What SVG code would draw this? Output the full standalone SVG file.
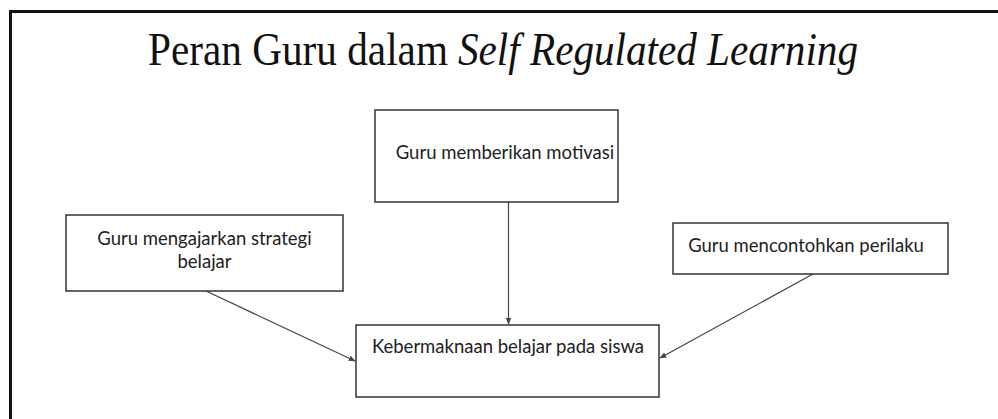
<svg xmlns="http://www.w3.org/2000/svg" width="998" height="419" viewBox="0 0 998 419">
<defs>
<style>
.box{fill:#fff;stroke:#333;stroke-width:1.5}
.lbl{font-family:Lato,"Liberation Sans",sans-serif;font-size:18.5px;fill:#222;text-anchor:middle}
.ttl{font-family:'Liberation Serif',serif;font-size:47px;fill:#111}
.edge{stroke:#444;stroke-width:1.2;fill:none;marker-end:url(#ah)}
</style>
<marker id="ah" viewBox="0 0 10 10" refX="9" refY="5" markerWidth="7" markerHeight="7" orient="auto" markerUnits="userSpaceOnUse">
<path d="M0,1 L10,5 L0,9 Z" fill="#444"/>
</marker>
</defs>
<rect width="998" height="419" fill="#fff"/>
<path d="M10.5,419 V11.5 H998" fill="none" stroke="#111" stroke-width="3"/>
<text class="ttl" x="148" y="65" textLength="300" lengthAdjust="spacingAndGlyphs">Peran Guru dalam</text>
<text class="ttl" x="458" y="65" font-style="italic" textLength="400" lengthAdjust="spacingAndGlyphs">Self Regulated Learning</text>
<g id="connectors">
<line class="edge" x1="508.5" y1="202" x2="508.5" y2="324"/>
<line class="edge" x1="206" y1="291" x2="355" y2="361"/>
<line class="edge" x1="813" y1="274" x2="660" y2="358"/>
</g>
<g id="n-motivasi">
<rect class="box" x="375" y="110" width="243" height="92"/>
<text class="lbl" x="505" y="159" font-size="18">Guru memberikan motivasi</text>
</g>
<g id="n-strategi">
<rect class="box" x="66" y="215" width="277" height="76"/>
<text class="lbl" x="204.5" y="245" font-size="19">Guru mengajarkan strategi</text>
<text class="lbl" x="204.5" y="268" font-size="19">belajar</text>
</g>
<g id="n-perilaku">
<rect class="box" x="673" y="223" width="275" height="51"/>
<text class="lbl" x="806" y="252">Guru mencontohkan perilaku</text>
</g>
<g id="n-kebermaknaan">
<rect class="box" x="356" y="325" width="303" height="72"/>
<text class="lbl" x="508" y="353">Kebermaknaan belajar pada siswa</text>
</g>
</svg>
